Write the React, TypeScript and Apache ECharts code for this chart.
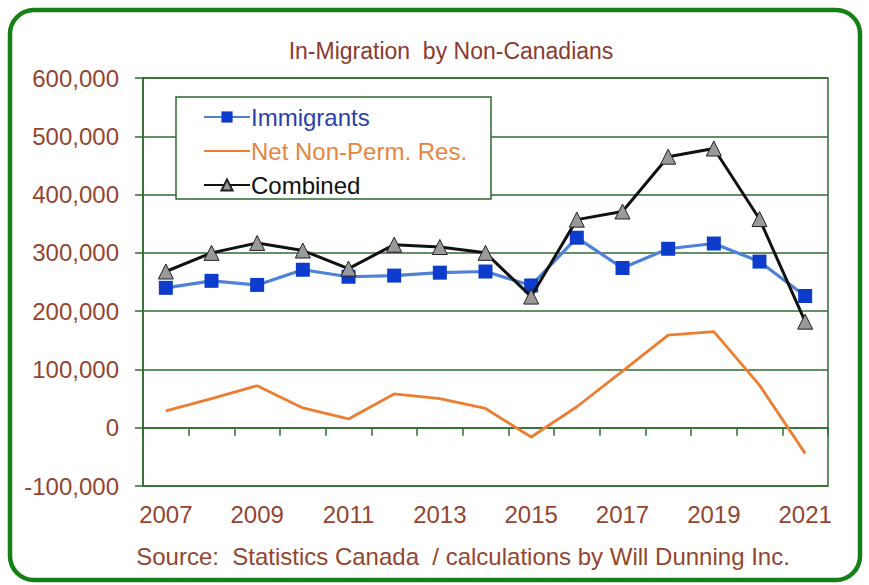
import React, { useEffect, useRef } from "react";
import * as echarts from "echarts";

const years = ["2007","2008","2009","2010","2011","2012","2013","2014","2015","2016","2017","2018","2019","2020","2021"];
const immigrants = [240000, 252000, 245000, 271000, 259000, 261000, 266000, 268000, 244000, 326000, 274000, 307000, 316000, 285000, 226000];
const netNonPerm = [29000, 50000, 72000, 34000, 15000, 58000, 50000, 33000, -16000, 36000, 97000, 159000, 165000, 73000, -44000];
const combined = [268000, 300000, 317000, 304000, 273000, 314000, 310000, 300000, 225000, 357000, 371000, 465000, 479000, 358000, 182000];

const titleText = "In-Migration  by Non-Canadians";
const sourceText = "Source:  Statistics Canada  / calculations by Will Dunning Inc.";

const FONT = "'Liberation Sans', Arial, sans-serif";
const LABEL = "#94452f";
const GRID = "#2e6b2e";

export default function App() {
  const ref = useRef<HTMLDivElement>(null);
  useEffect(() => {
    const chart = echarts.init(ref.current!, null, { renderer: "svg" });
    chart.setOption({
      animation: false,
      backgroundColor: "#ffffff",
      title: {
        text: titleText,
        left: 446,
        textAlign: "center",
        top: 34,
        textStyle: { fontFamily: FONT, fontSize: 23, fontWeight: "normal", color: "#8a3a30" },
      },
      grid: { left: 143, right: 41, top: 78, bottom: 99, show: true, borderColor: GRID, borderWidth: 1.5, backgroundColor: "transparent" },
      legend: {
        orient: "vertical",
        left: 198,
        top: 100,
        itemGap: 10,
        itemWidth: 46,
        itemHeight: 14,
        textStyle: { fontFamily: FONT, fontSize: 24, padding: [0, 0, 0, -4] },
        data: [
          { name: "Immigrants", textStyle: { color: "#2a3fb0" } },
          {
            name: "Net Non-Perm. Res.",
            itemStyle: { color: "rgba(0,0,0,0)", borderWidth: 0 },
            textStyle: { color: "#e8843f" },
          },
          { name: "Combined", textStyle: { color: "#111111" } },
        ],
      },
      xAxis: {
        type: "category",
        data: years,
        boundaryGap: true,
        axisLine: { lineStyle: { color: GRID, width: 1.5 } },
        axisTick: { show: true, length: 8, lineStyle: { color: GRID, width: 1.5 }, interval: 0 },
        axisLabel: { interval: 1, margin: 16, fontFamily: FONT, fontSize: 24, color: LABEL },
        splitLine: { show: false },
      },
      yAxis: {
        type: "value",
        min: -100000,
        max: 600000,
        interval: 100000,
        axisLine: { show: true, lineStyle: { color: GRID, width: 1.5 } },
        axisTick: { show: true, length: 8, lineStyle: { color: GRID, width: 1.5 } },
        axisLabel: {
          margin: 24,
          fontFamily: FONT,
          fontSize: 24,
          color: LABEL,
          formatter: (v: number) => v.toLocaleString("en-US"),
        },
        splitLine: { show: true, lineStyle: { color: GRID, width: 1.5 } },
      },
      series: [
        {
          name: "Immigrants",
          type: "line",
          data: immigrants,
          symbol: "rect",
          symbolSize: 14,
          itemStyle: { color: "#0d3ccc" },
          lineStyle: { color: "#4f82d6", width: 3.2 },
          z: 3,
        },
        {
          name: "Net Non-Perm. Res.",
          type: "line",
          data: netNonPerm,
          symbol: "none",
          itemStyle: { color: "#ed7d31" },
          lineStyle: { color: "#ed7d31", width: 2.8 },
          z: 2,
        },
        {
          name: "Combined",
          type: "line",
          data: combined,
          symbol: "triangle",
          symbolSize: 15,
          itemStyle: { color: "#999999", borderColor: "#222222", borderWidth: 1 },
          lineStyle: { color: "#111111", width: 3 },
          z: 4,
        },
      ],
      graphic: [
        {
          type: "rect",
          shape: { x: 10, y: 10, width: 850, height: 570, r: 24 },
          style: { fill: "none", stroke: "#168016", lineWidth: 4.5 },
          z: 100,
        },
        {
          type: "rect",
          shape: { x: 176, y: 97, width: 315, height: 102 },
          style: { fill: "#ffffff", stroke: GRID, lineWidth: 1.5 },
          z: 1,
        },
        {
          type: "text",
          x: 463,
          y: 556,
          style: {
            text: sourceText,
            fontFamily: FONT,
            fontSize: 24,
            fill: LABEL,
            textAlign: "center",
            textVerticalAlign: "middle",
          },
        },
      ],
    });
    return () => chart.dispose();
  }, []);
  return <div ref={ref} style={{ position: "fixed", left: 0, top: 0, width: 869, height: 585 }} />;
}
